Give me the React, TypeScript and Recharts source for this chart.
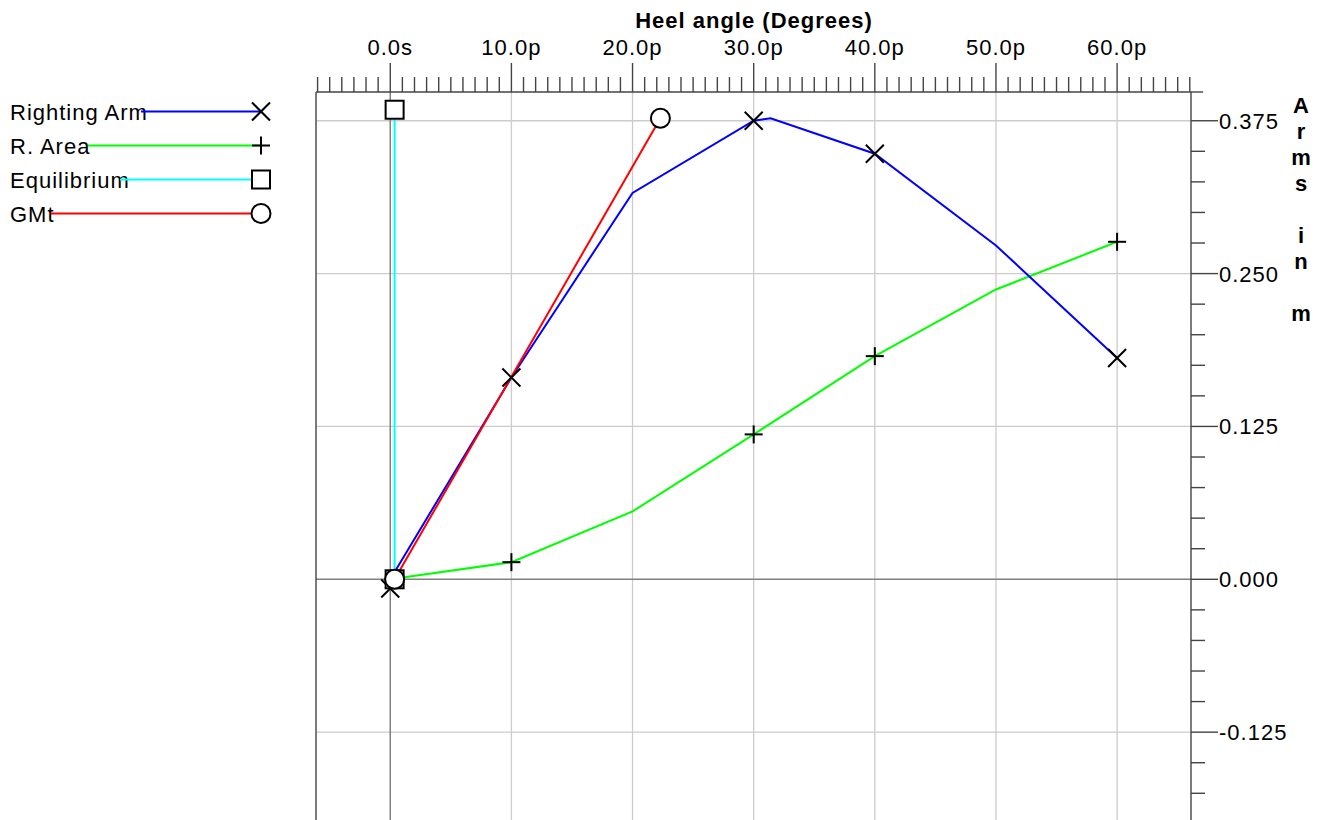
import React from "react";
import {
  ComposedChart,
  Line,
  Scatter,
  XAxis,
  YAxis,
  ReferenceLine,
} from "recharts";

// heel angle (deg) vs arm (m)
const rightingArm = [
  { x: 0, y: 0 },
  { x: 10, y: 0.165 },
  { x: 20, y: 0.316 },
  { x: 30, y: 0.375 },
  { x: 31.4, y: 0.377 },
  { x: 40, y: 0.348 },
  { x: 50, y: 0.273 },
  { x: 60, y: 0.181 },
];
const rightingArmMarks = [
  { x: 0, y: -0.0075 },
  { x: 10, y: 0.165 },
  { x: 30, y: 0.375 },
  { x: 40, y: 0.348 },
  { x: 60, y: 0.181 },
];
const rArea = [
  { x: 0, y: 0 },
  { x: 10, y: 0.014 },
  { x: 20, y: 0.0555 },
  { x: 30, y: 0.1185 },
  { x: 40, y: 0.1825 },
  { x: 50, y: 0.237 },
  { x: 60, y: 0.276 },
];
const rAreaMarks = [
  { x: 10, y: 0.014 },
  { x: 30, y: 0.1185 },
  { x: 40, y: 0.1825 },
  { x: 60, y: 0.276 },
];
const equilibrium = [
  { x: 0.36, y: 0 },
  { x: 0.36, y: 0.384 },
];
const gmt = [
  { x: 0.36, y: 0 },
  { x: 22.3, y: 0.377 },
];

const X_MIN = -6.13;
const X_MAX = 66.1;
const Y_MIN = -0.25;
const Y_MAX = 0.3985;

const xTicks = Array.from({ length: 73 }, (_, i) => i - 6);
const yTicks = Array.from({ length: 24 }, (_, i) => Math.round((-0.2 + i * 0.025) * 1000) / 1000);
const xGrid = [10, 20, 30, 40, 50, 60];
const yGrid = [0.375, 0.25, 0.125, -0.125];

const FONT = "'Liberation Sans', Arial, sans-serif";
const FS = 22;
const LS = "1px";
const AXIS = "#444";

const legendItems = [
  { name: "Righting Arm", color: "#0000ff", mark: "x", lineFrom: 141 },
  { name: "R. Area", color: "#00ff00", mark: "plus", lineFrom: 88 },
  { name: "Equilibrium", color: "#00ffff", mark: "square", lineFrom: 120 },
  { name: "GMt", color: "#ff0000", mark: "circle", lineFrom: 51 },
];

function Mark({ kind, cx, cy }: { kind: string; cx: number; cy: number }) {
  const s = 9;
  if (kind === "x")
    return (
      <g stroke="#000" strokeWidth={2}>
        <line x1={cx - s} y1={cy - s} x2={cx + s} y2={cy + s} />
        <line x1={cx - s} y1={cy + s} x2={cx + s} y2={cy - s} />
      </g>
    );
  if (kind === "plus")
    return (
      <g stroke="#000" strokeWidth={2}>
        <line x1={cx - s} y1={cy} x2={cx + s} y2={cy} />
        <line x1={cx} y1={cy - s} x2={cx} y2={cy + s} />
      </g>
    );
  if (kind === "square")
    return <rect x={cx - s} y={cy - s} width={2 * s} height={2 * s} fill="#fff" stroke="#000" strokeWidth={2} />;
  return <circle cx={cx} cy={cy} r={9.5} fill="#fff" stroke="#000" strokeWidth={2} />;
}

const shape = (kind: string) => (p: any) => <Mark kind={kind} cx={p.cx} cy={p.cy} />;

const TopTick = (props: any) => {
  const { x, y, payload } = props;
  const v = payload.value;
  const major = v % 10 === 0;
  const label = v === 0 ? "0.0s" : `${v.toFixed(1)}p`;
  return (
    <g>
      <line x1={x} x2={x} y1={y} y2={y - (major ? 29 : 15)} stroke={AXIS} strokeWidth={1.4} />
      {major && v >= 0 && (
        <text x={x} y={y - 37} textAnchor="middle" fontSize={FS} fontFamily={FONT} fill="#000" style={{ letterSpacing: LS }}>
          {label}
        </text>
      )}
    </g>
  );
};

const RightTick = (props: any) => {
  const { x, y, payload } = props;
  const v = payload.value;
  const major = Math.abs(v / 0.125 - Math.round(v / 0.125)) < 1e-6;
  return (
    <g>
      <line x1={x} x2={x + (major ? 27 : 14)} y1={y} y2={y} stroke={AXIS} strokeWidth={1.4} />
      {major && (
        <text x={x + 28} y={y + 8} textAnchor="start" fontSize={FS} fontFamily={FONT} fill="#000" style={{ letterSpacing: LS }}>
          {v.toFixed(3)}
        </text>
      )}
    </g>
  );
};

function LegendBox() {
  return (
    <svg width={300} height={240} style={{ position: "absolute", left: 0, top: 0 }}>
      {legendItems.map((it, i) => {
        const cy = 111.5 + i * 34;
        return (
          <g key={it.name}>
            <text x={10} y={cy + 8} fontSize={FS} fontFamily={FONT} fill="#000" style={{ letterSpacing: LS }}>
              {it.name}
            </text>
            <line x1={it.lineFrom} x2={261} y1={cy} y2={cy} stroke={it.color} strokeWidth={2} />
            <Mark kind={it.mark} cx={261} cy={cy} />
          </g>
        );
      })}
    </svg>
  );
}

const yLabel = ["A", "r", "m", "s", "", "i", "n", "", "m"];

export default function App() {
  return (
    <div style={{ position: "absolute", left: 0, top: 0, width: 1327, height: 820, overflow: "hidden", background: "#fff" }}>
      <ComposedChart width={1327} height={885} margin={{ top: 0, right: 0, left: 316, bottom: 0 }}>
        <XAxis
          type="number"
          dataKey="x"
          orientation="top"
          domain={[X_MIN, X_MAX]}
          allowDataOverflow
          ticks={xTicks}
          interval={0}
          height={92}
          tickSize={0}
          tickMargin={0}
          tickLine={false}
          tick={TopTick}
          axisLine={{ stroke: AXIS, strokeWidth: 1.4 }}
        />
        <YAxis
          type="number"
          dataKey="y"
          orientation="right"
          domain={[Y_MIN, Y_MAX]}
          allowDataOverflow
          ticks={yTicks}
          interval={0}
          width={136}
          tickSize={0}
          tickMargin={0}
          tickLine={false}
          tick={RightTick}
          axisLine={{ stroke: AXIS, strokeWidth: 1.4 }}
        />
        {xGrid.map((v) => (
          <ReferenceLine key={"gx" + v} x={v} stroke="#cccccc" strokeWidth={1.3} />
        ))}
        {yGrid.map((v) => (
          <ReferenceLine key={"gy" + v} y={v} stroke="#cccccc" strokeWidth={1.3} />
        ))}
        <ReferenceLine x={0} stroke="#808080" strokeWidth={1.5} />
        <ReferenceLine y={0} stroke="#808080" strokeWidth={1.5} />
        <ReferenceLine x={X_MIN} stroke={AXIS} strokeWidth={1.4} />
        <ReferenceLine
          segment={[
            { x: X_MAX, y: Y_MAX },
            { x: X_MAX + 1, y: Y_MAX },
          ]}
          ifOverflow="visible"
          stroke={AXIS}
          strokeWidth={1.4}
        />

        <Line data={equilibrium} dataKey="y" stroke="#00ffff" strokeWidth={2} dot={false} isAnimationActive={false} />
        <Line data={rArea} dataKey="y" stroke="#00ff00" strokeWidth={2} dot={false} isAnimationActive={false} />
        <Line data={rightingArm} dataKey="y" stroke="#0000ff" strokeWidth={2} dot={false} isAnimationActive={false} />
        <Line data={gmt} dataKey="y" stroke="#ff0000" strokeWidth={2} dot={false} isAnimationActive={false} />

        <Scatter data={rightingArmMarks} shape={shape("x")} isAnimationActive={false} />
        <Scatter data={rAreaMarks} shape={shape("plus")} isAnimationActive={false} />
        <Scatter data={equilibrium} shape={shape("square")} isAnimationActive={false} />
        <Scatter data={gmt} shape={shape("circle")} isAnimationActive={false} />

        <text x={754} y={27.5} textAnchor="middle" fontSize={FS} fontWeight="bold" fontFamily={FONT} fill="#000" style={{ letterSpacing: LS }}>
          Heel angle (Degrees)
        </text>
        <text x={1301} y={113} textAnchor="middle" fontSize={FS} fontWeight="bold" fontFamily={FONT} fill="#000">
          {yLabel.map((c, i) => (
            <tspan key={i} x={1301} y={113 + i * 26}>
              {c}
            </tspan>
          ))}
        </text>
      </ComposedChart>
      <LegendBox />
    </div>
  );
}
